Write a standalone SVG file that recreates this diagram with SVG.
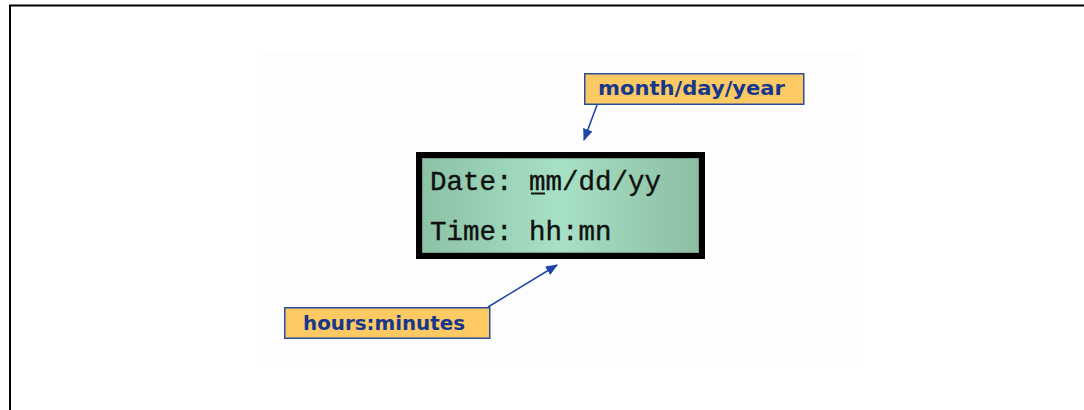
<svg xmlns="http://www.w3.org/2000/svg" width="1084" height="410" viewBox="0 0 1084 410">
  <defs>
    <linearGradient id="lcdFill" x1="0" y1="0" x2="1" y2="0">
      <stop offset="0" stop-color="#8cc2a5"/>
      <stop offset="0.5" stop-color="#a7e1c5"/>
      <stop offset="1" stop-color="#8cbea2"/>
    </linearGradient>
    <marker id="arrow" viewBox="0 0 12 10" refX="11" refY="5" markerWidth="12" markerHeight="10" markerUnits="userSpaceOnUse" orient="auto">
      <path d="M0,0 L12,5 L0,10 Z" fill="#1e44a6"/>
    </marker>
    <style>
      .frame { stroke: #000; stroke-width: 2; fill: none; }
      .callout rect { fill: #fdc963; stroke: #2b4ca3; stroke-width: 1.5; }
      .callout text { font-family: "DejaVu Sans", Verdana, sans-serif; font-weight: bold; font-size: 19px; fill: #16388c; }
      .lcd-text { font-family: "Liberation Mono", "Courier New", monospace; font-size: 27.5px; fill: #111; stroke: #111; stroke-width: 0.4; }
      .link { stroke: #2148a8; stroke-width: 1.6; fill: none; marker-end: url(#arrow); }
    </style>
  </defs>

  <rect width="1084" height="410" fill="#ffffff"/>

  <!-- page frame -->
  <path class="frame" d="M10,410 V5.5 H1084"/>

  <!-- faint figure backdrop -->
  <rect x="258" y="52" width="600" height="315" fill="#fdfdfd"/>

  <!-- LCD display -->
  <g id="lcd">
    <rect x="418.5" y="154.5" width="284" height="102" fill="#000" stroke="#000" stroke-width="5"/>
    <rect x="422" y="158" width="277" height="95" fill="#7a9a88"/>
    <rect x="423" y="159" width="275" height="93" fill="url(#lcdFill)"/>
    <text class="lcd-text" x="430" y="190">Date: mm/dd/yy</text>
    <line x1="531" y1="193.5" x2="545" y2="193.5" stroke="#111" stroke-width="2"/>
    <text class="lcd-text" x="430" y="240">Time: hh:mn</text>
  </g>

  <!-- callout: date fields -->
  <g id="date-label" class="callout">
    <rect x="584.75" y="73.75" width="219" height="30.5"/>
    <text x="598" y="95" textLength="187" lengthAdjust="spacingAndGlyphs">month/day/year</text>
  </g>

  <!-- callout: time fields -->
  <g id="time-label" class="callout">
    <rect x="284.75" y="307.75" width="205" height="30.5"/>
    <text x="303" y="330" textLength="162" lengthAdjust="spacingAndGlyphs">hours:minutes</text>
  </g>

  <!-- connectors -->
  <g id="connectors">
    <line class="link" x1="597" y1="105" x2="584" y2="140"/>
    <line class="link" x1="488" y1="307" x2="557" y2="265"/>
  </g>
</svg>
